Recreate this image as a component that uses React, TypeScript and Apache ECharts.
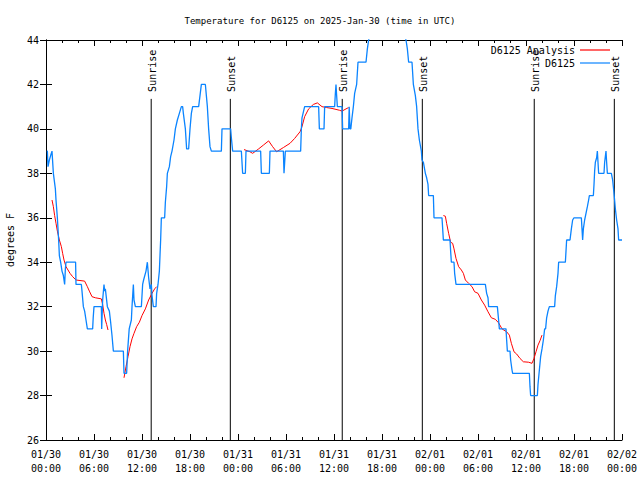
import React, { useEffect, useRef } from "react";
import * as echarts from "echarts";

const titleText = "Temperature for D6125 on 2025-Jan-30 (time in UTC)";
const yAxisName = "degrees F";
const yMin = 26;
const yMax = 44;
const xMin = 0;
const xMax = 72;
const xTickLabels = [
  "01/30\n00:00", "01/30\n06:00", "01/30\n12:00", "01/30\n18:00",
  "01/31\n00:00", "01/31\n06:00", "01/31\n12:00", "01/31\n18:00",
  "02/01\n00:00", "02/01\n06:00", "02/01\n12:00", "02/01\n18:00",
  "02/02\n00:00",
];
const sunEventTimes = [13.15, 23.04, 37.03, 47.04, 61.03, 71.04];
const sunEventNames = ["Sunrise", "Sunset", "Sunrise", "Sunset", "Sunrise", "Sunset"];
const sunLineTop = 41.35;

const analysisName = "D6125 Analysis";
const observedName = "D6125";

// hours since 2025-01-30 00:00 UTC, degrees F
const analysisSeries: (number | null)[][] = [
  [0.75, 36.8], [0.92, 36.5], [1.08, 36.1], [1.25, 35.75], [1.42, 35.4], [1.67, 35.0],
  [1.92, 34.7], [2.08, 34.4], [2.25, 34.1], [2.5, 33.8], [2.75, 33.65], [3.0, 33.5],
  [3.33, 33.35], [3.75, 33.2], [4.83, 33.15], [5.17, 32.9], [5.42, 32.7], [5.75, 32.45],
  [6.17, 32.4], [6.92, 32.35], [7.08, 32.1], [7.25, 31.7], [7.42, 31.4], [7.58, 31.2],
  [7.75, 30.95],
  [8.7, null],
  [9.75, 28.8], [10.0, 29.3], [10.25, 29.75], [10.5, 30.2], [10.75, 30.55], [11.0, 30.8],
  [11.33, 31.1], [11.67, 31.3], [12.0, 31.6], [12.42, 31.9], [12.83, 32.3], [13.25, 32.6],
  [13.58, 32.8], [13.83, 32.9],
  [19.0, null],
  [24.75, 39.07], [25.5, 38.97], [25.83, 38.9], [26.58, 39.1], [27.17, 39.27], [27.83, 39.46],
  [28.33, 39.2], [28.83, 38.97], [29.67, 39.16], [30.5, 39.35], [31.08, 39.57], [31.75, 39.87],
  [32.0, 40.1], [32.33, 40.55], [32.83, 40.9], [33.42, 41.1], [33.92, 41.17], [34.5, 41.0],
  [35.08, 40.96], [35.75, 40.92], [36.67, 40.84], [37.0, 40.8], [37.5, 40.9], [37.83, 40.96],
  [43.0, null],
  [49.67, 36.1], [49.92, 36.07], [50.08, 35.75], [50.33, 35.3], [50.58, 34.9], [50.83, 34.85],
  [51.0, 34.6], [51.25, 34.17], [51.58, 33.8], [51.92, 33.65], [52.17, 33.5], [52.42, 33.2],
  [52.83, 33.05], [53.25, 32.9], [53.58, 32.67], [54.0, 32.6], [54.42, 32.3], [54.83, 32.07],
  [55.25, 31.77], [55.67, 31.5], [56.17, 31.43], [56.58, 31.27], [57.0, 31.0], [57.58, 30.87],
  [57.92, 30.72], [58.17, 30.35], [58.5, 29.97], [58.83, 29.87], [59.25, 29.67], [59.67, 29.52],
  [60.33, 29.5], [60.75, 29.45], [61.0, 29.67], [61.25, 29.97], [61.5, 30.27], [61.75, 30.47],
  [62.0, 30.72],
];

const observedSeries: number[][] = [
  [0.08, 39], [0.17, 39], [0.25, 38.3], [0.42, 38.6], [0.58, 38.8], [0.75, 39], [0.83, 39],
  [0.92, 38], [1.17, 37.3], [1.25, 36.8], [1.42, 36], [1.58, 35], [1.67, 34.3], [1.83, 34],
  [2.0, 33.6], [2.17, 33.4], [2.33, 33], [2.42, 33.7], [2.5, 34], [3.7, 34], [3.75, 33],
  [4.42, 33], [4.5, 32.7], [4.67, 32], [4.83, 31.8], [5.0, 31.4], [5.17, 31], [5.83, 31],
  [5.9, 31.5], [6.0, 32], [6.92, 32], [6.96, 31], [7.08, 32.3], [7.25, 33], [7.33, 32.7],
  [7.42, 32.8], [7.67, 32], [7.92, 31.8], [8.08, 31.3], [8.25, 30.7], [8.42, 30], [9.67, 30],
  [9.75, 29], [10.08, 29], [10.15, 29.6], [10.2, 30], [10.4, 31], [10.67, 31.4], [10.75, 32],
  [10.92, 33], [11.0, 32.3], [11.17, 32], [11.92, 32], [12.08, 33], [12.2, 33.2], [12.5, 33.6],
  [12.67, 34], [12.83, 33.3], [13.0, 32.8], [13.17, 33], [13.25, 32.5], [13.42, 32], [13.75, 32],
  [13.83, 32.6], [14.0, 33], [14.17, 33.6], [14.33, 35], [14.42, 36], [14.83, 36], [14.92, 36.7],
  [15.08, 37.4], [15.17, 38], [15.42, 38.3], [15.58, 38.75], [15.75, 39], [16.0, 39.5],
  [16.17, 40], [16.42, 40.4], [16.67, 40.7], [16.92, 41], [17.08, 41], [17.17, 40.7],
  [17.42, 40], [17.58, 39.1], [17.83, 39.1], [18.0, 40], [18.17, 40.7], [18.33, 41], [19.08, 41],
  [19.25, 41.5], [19.42, 42], [19.92, 42], [20.17, 41], [20.33, 40], [20.5, 39.2], [20.67, 39],
  [21.92, 39], [22.0, 40], [23.08, 40], [23.17, 39.6], [23.33, 39], [24.42, 39], [24.58, 38],
  [24.92, 38], [25.0, 39], [26.83, 39], [26.92, 38], [27.92, 38], [28.0, 39], [29.67, 39],
  [29.75, 38], [29.92, 39], [31.83, 39], [31.92, 40], [32.0, 40.5], [32.33, 41], [34.08, 41],
  [34.17, 40], [34.75, 40], [34.83, 41], [36.08, 41], [36.17, 41.6], [36.25, 42], [36.33, 41.5],
  [36.42, 41], [37.0, 41], [37.08, 40], [37.83, 40], [37.9, 41], [38.0, 40], [38.1, 40],
  [38.25, 40.5], [38.42, 41], [38.58, 41.6], [38.83, 42], [39.0, 43], [40.0, 43], [40.17, 43.6],
  [40.33, 44], [41, 45], [42.5, 45.5], [44, 45], [45.0, 44], [45.17, 43.6], [45.33, 43],
  [45.75, 43], [45.92, 42], [46.17, 41.5], [46.33, 41], [46.5, 40], [46.67, 39.5], [46.92, 39],
  [47.0, 38.6], [47.17, 38.5], [47.42, 38], [47.58, 37.8], [47.75, 37.5], [47.83, 37],
  [48.42, 37], [48.5, 36], [49.5, 36], [49.67, 35], [50.5, 35], [50.58, 34.5], [50.67, 34],
  [51.0, 34], [51.08, 33.5], [51.25, 33], [54.92, 33], [55.08, 32.6], [55.25, 32.4], [55.33, 32],
  [56.42, 32], [56.55, 31.5], [56.67, 31], [57.5, 31], [57.58, 30.5], [57.67, 30], [58.0, 30],
  [58.08, 29.6], [58.25, 29.15], [58.33, 29], [60.42, 29], [60.5, 28.4], [60.58, 28], [61.42, 28],
  [61.5, 28.5], [61.67, 29.15], [61.83, 29.75], [62.0, 30.1], [62.17, 30.5], [62.33, 31],
  [62.45, 31], [62.58, 31.5], [62.75, 31.8], [62.92, 32], [63.58, 32], [63.67, 32.5],
  [63.83, 32.9], [64.0, 33.5], [64.08, 34], [64.92, 34], [65.0, 34.5], [65.08, 35], [65.5, 35],
  [65.67, 35.5], [65.83, 35.9], [66.0, 36], [66.92, 36], [67.0, 35.5], [67.08, 35], [67.17, 35.5],
  [67.33, 35.9], [67.5, 36.2], [67.67, 36.5], [67.83, 36.8], [67.92, 37], [68.42, 37], [68.5, 37.5],
  [68.58, 38.1], [68.67, 38.5], [68.83, 38.7], [68.92, 39], [69.0, 38.5], [69.08, 38], [69.75, 38],
  [69.83, 38.5], [70.0, 39], [70.08, 38.5], [70.17, 38], [70.67, 38], [70.83, 37.7], [71.0, 37.1],
  [71.17, 36.4], [71.33, 35.9], [71.5, 35.5], [71.58, 35], [72, 35],
];

const FONT = '"DejaVu Sans Mono", "Liberation Mono", monospace';
const RED = "#ff0000";
const BLUE = "#0a84ff";

export default function App() {
  const ref = useRef<HTMLDivElement>(null);
  useEffect(() => {
    if (!ref.current) return;
    const chart = echarts.init(ref.current, undefined, { renderer: "svg" });
    const tickCommon = {
      axisLine: { show: true, lineStyle: { color: "#000", width: 1 } },
      splitLine: { show: false },
    };
    const legendCommon = {
      right: 30,
      align: "right",
      orient: "vertical",
      icon: "rect",
      itemWidth: 30,
      itemHeight: 1.2,
      itemGap: 0,
      padding: 0,
      selectedMode: false,
      textStyle: { fontFamily: FONT, fontSize: 10, color: "#000", lineHeight: 12 },
    };
    const option: any = {
      animation: false,
      backgroundColor: "#fff",
      textStyle: { fontFamily: FONT },
      title: {
        text: titleText,
        left: "center",
        top: 11,
        textStyle: { fontFamily: FONT, fontSize: 9, fontWeight: "normal", color: "#000" },
      },
      legend: [
        { ...legendCommon, data: [analysisName], top: 44 },
        { ...legendCommon, data: [observedName], top: 57 },
      ],
      grid: { left: 46, right: 18, top: 40, bottom: 40, containLabel: false, outerBoundsMode: "none" },
      xAxis: [
        {
          type: "value",
          min: xMin,
          max: xMax,
          interval: 6,
          position: "bottom",
          ...tickCommon,
          axisTick: { show: true, inside: true, length: 6, lineStyle: { color: "#000" } },
          minorTick: { show: true, splitNumber: 3, length: 3, lineStyle: { color: "#000" } },
          axisLabel: {
            show: true,
            margin: 7,
            color: "#000",
            fontFamily: FONT,
            fontSize: 10,
            lineHeight: 14,
            formatter: (v: number) => xTickLabels[Math.round((v - xMin) / 6)] ?? "",
          },
        },
        {
          type: "value",
          min: xMin,
          max: xMax,
          interval: 6,
          position: "top",
          ...tickCommon,
          axisTick: { show: true, inside: true, length: 6, lineStyle: { color: "#000" } },
          minorTick: { show: true, splitNumber: 3, length: 3, lineStyle: { color: "#000" } },
          axisLabel: { show: false },
        },
      ],
      yAxis: [
        {
          type: "value",
          min: yMin,
          max: yMax,
          interval: 2,
          position: "left",
          ...tickCommon,
          axisTick: { show: true, inside: true, length: 6, lineStyle: { color: "#000" } },
          axisLabel: { show: true, margin: 7, color: "#000", fontFamily: FONT, fontSize: 10 },
          name: yAxisName,
          nameLocation: "middle",
          nameGap: 31,
          nameRotate: 90,
          nameTextStyle: { fontFamily: FONT, fontSize: 10, color: "#000" },
        },
        {
          type: "value",
          min: yMin,
          max: yMax,
          interval: 2,
          position: "right",
          ...tickCommon,
          axisTick: { show: true, inside: true, length: 6, lineStyle: { color: "#000" } },
          axisLabel: { show: false },
        },
      ],
      series: [
        {
          type: "custom",
          name: "sun",
          xAxisIndex: 0,
          yAxisIndex: 0,
          silent: true,
          data: sunEventTimes.map((t) => [t, yMin]),
          encode: { x: 0, y: 1 },
          renderItem: (params: any, api: any) => {
            const t = api.value(0);
            const b = api.coord([t, yMin]);
            const tp = api.coord([t, sunLineTop]);
            return {
              type: "group",
              children: [
                {
                  type: "line",
                  shape: { x1: b[0], y1: b[1], x2: tp[0], y2: tp[1] },
                  style: { stroke: "#000", lineWidth: 1 },
                },
                {
                  type: "text",
                  x: tp[0] + 1,
                  y: tp[1] - 7,
                  rotation: Math.PI / 2,
                  style: {
                    text: sunEventNames[params.dataIndex],
                    fill: "#000",
                    font: `10px ${FONT}`,
                    align: "left",
                    verticalAlign: "middle",
                  },
                },
              ],
            };
          },
          z: 1,
        },
        {
          type: "line",
          name: analysisName,
          xAxisIndex: 0,
          yAxisIndex: 0,
          data: analysisSeries,
          showSymbol: false,
          symbol: "none",
          connectNulls: false,
          lineStyle: { color: RED, width: 1 },
          itemStyle: { color: RED },
          z: 2,
        },
        {
          type: "line",
          name: observedName,
          xAxisIndex: 0,
          yAxisIndex: 0,
          data: observedSeries,
          showSymbol: false,
          symbol: "none",
          lineStyle: { color: BLUE, width: 1.3 },
          itemStyle: { color: BLUE },
          z: 3,
        },
      ],
    };
    chart.setOption(option);
    return () => chart.dispose();
  }, []);
  return (
    <div
      ref={ref}
      style={{ position: "fixed", left: 0, top: 0, width: 640, height: 480, background: "#fff" }}
    />
  );
}
